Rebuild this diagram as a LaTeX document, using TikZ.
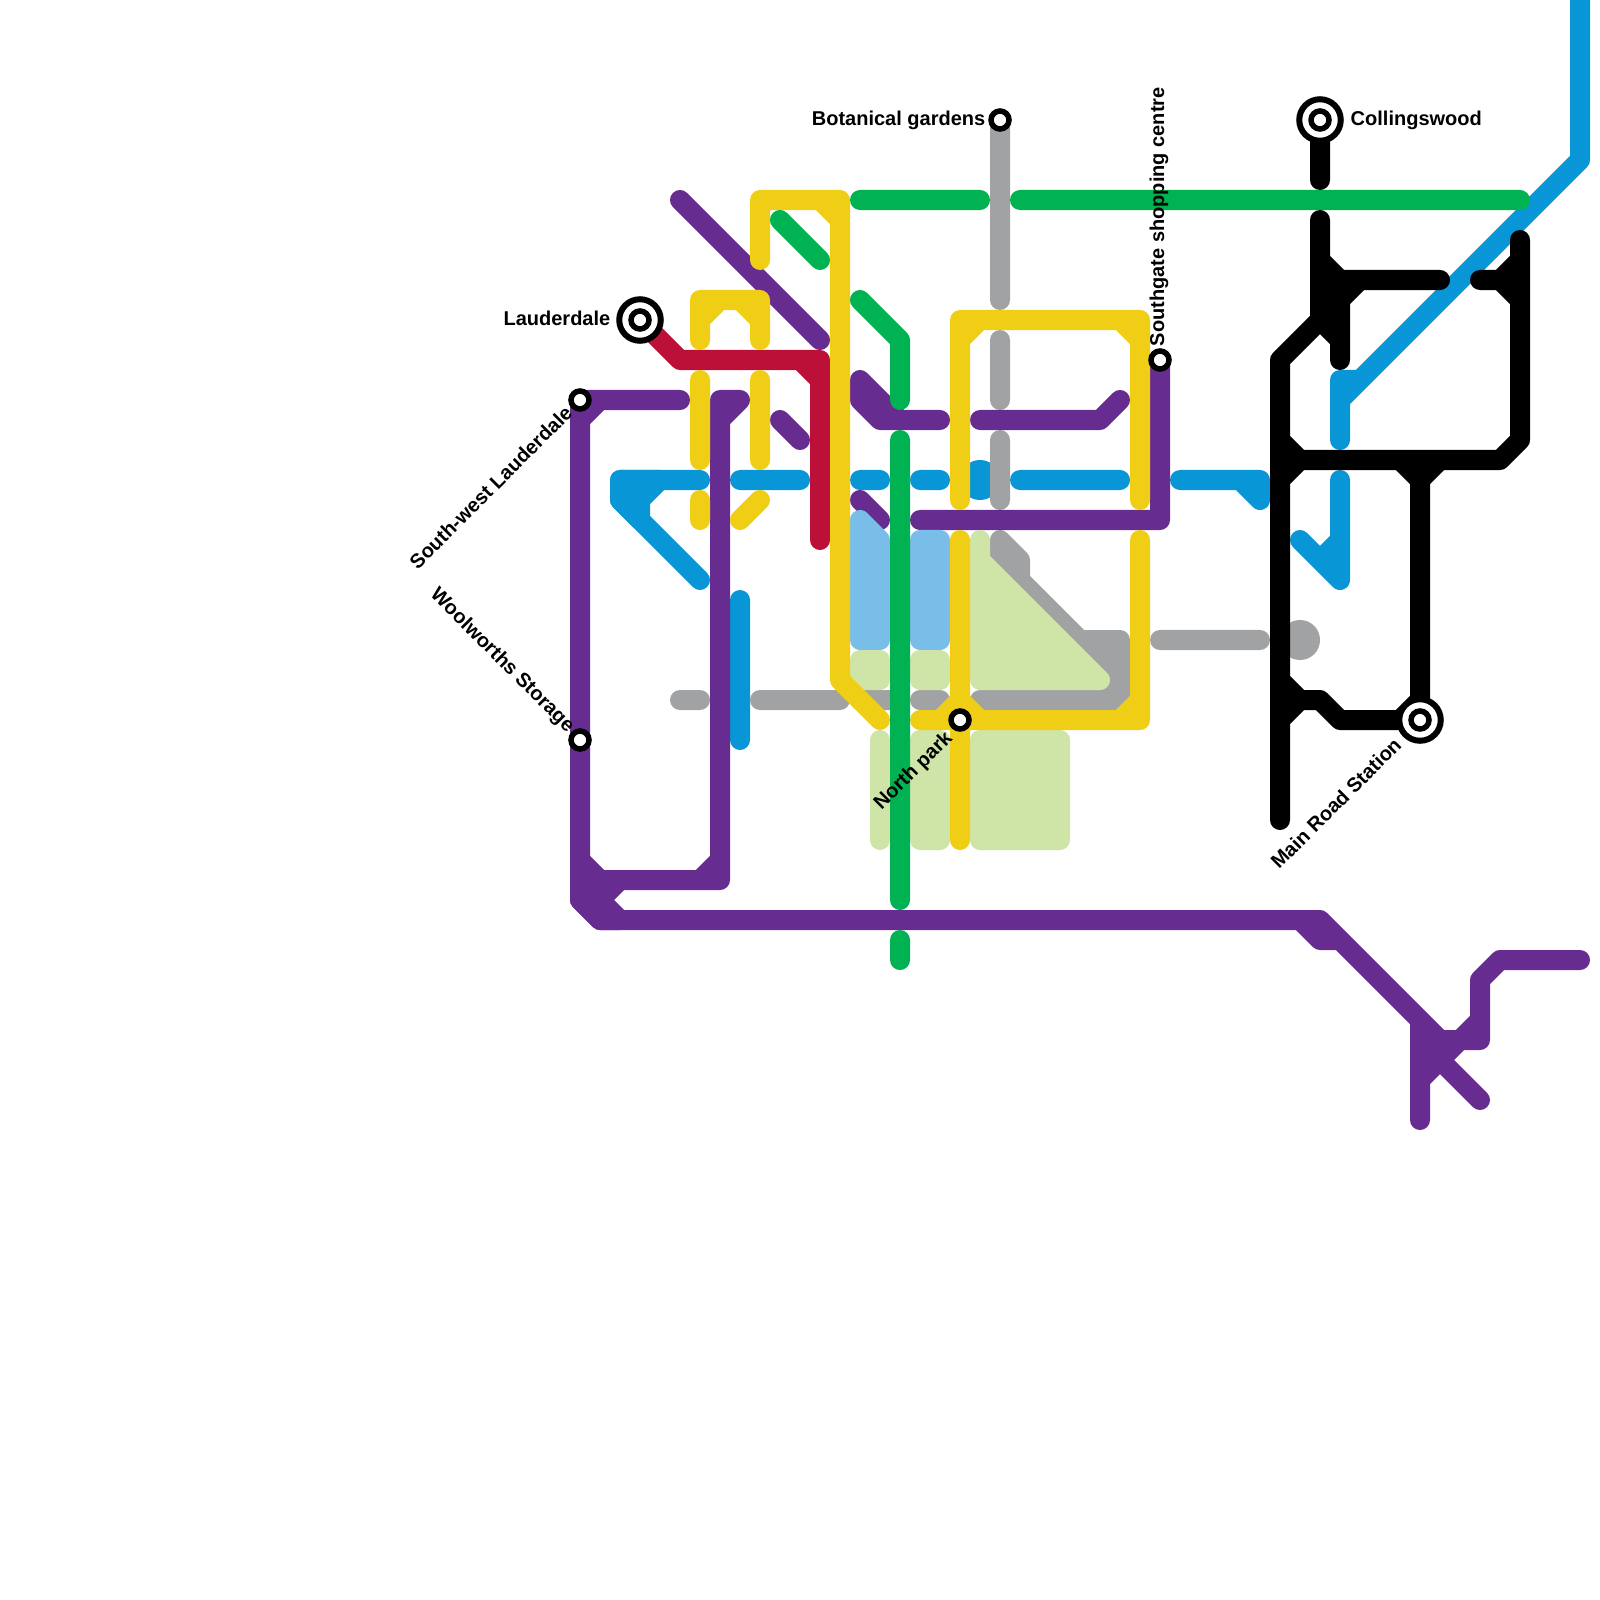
\documentclass[tikz,border=0pt]{standalone}
\usepackage{fontspec}
\setmainfont{Liberation Sans}
\usepackage{xcolor}
\usetikzlibrary{calc}
\definecolor{linePurple}{HTML}{662C90}
\definecolor{lineYellow}{HTML}{F0CE15}
\definecolor{lineBlue}{HTML}{0896D7}
\definecolor{lineSky}{HTML}{79BDE9}
\definecolor{lineGray}{HTML}{A1A2A3}
\definecolor{lineGreen}{HTML}{00B251}
\definecolor{lineRed}{HTML}{BD1038}
\definecolor{lineMoss}{HTML}{CFE4A7}
\tikzset{
	track/.style={line width=0.2cm,line cap=round,line join=round},
	stop/.style={circle,draw=black,fill=white,line width=0.055cm,minimum size=0.18cm,inner sep=0pt},
	hub/.style={circle,draw=black,fill=white,line width=0.06cm,minimum size=0.415cm,inner sep=0pt},
	stoplabel/.style={font=\fontsize{5.69}{7}\selectfont\bfseries,inner sep=0pt},
}
\begin{document}
\begin{tikzpicture}[x=0.01cm,y=-0.01cm]
	\useasboundingbox (0,0) rectangle (1600,1600);
	\coordinate (pLauderdale) at (640,320);
	\coordinate (pSouthWest) at (580,400);
	\coordinate (pWoolworths) at (580,740);
	\coordinate (pBotanical) at (1000,120);
	\coordinate (pSouthgate) at (1160,360);
	\coordinate (pNorthPark) at (960,720);
	\coordinate (pCollingswood) at (1320,120);
	\coordinate (pMainRoad) at (1420,720);
	\fill[lineBlue] (980,480) circle (0.2cm);
	\draw[track,lineBlue,fill=lineBlue] (620,480)--(660,480)--(640,500)--(640,520)--(620,500)--cycle;
	\draw[track,lineBlue] (700,480)--(620,480)--(620,500)--(700,580)
		(740,480)--(800,480)
		(740,600)--(740,740)
		(860,480)--(880,480)
		(920,480)--(940,480)
		(1020,480)--(1120,480)
		(1180,480)--(1260,480)--(1260,500)--(1240,480)
		(1340,440)--(1340,380)--(1360,380)
		(1340,400)--(1580,160)--(1580,0)
		(1340,480)--(1340,580)--(1300,540)
		(1320,560)--(1340,540);
	\fill[lineGray] (1300,640) circle (0.2cm);
	\draw[track,lineGray,fill=lineGray] (1080,640)--(1120,640)--(1120,700)--(1080,700)--cycle;
	\draw[track,lineGray] (1000,120)--(1000,300)
		(1000,340)--(1000,400)
		(1000,440)--(1000,500)
		(680,700)--(700,700)
		(760,700)--(840,700)
		(860,700)--(900,700)
		(920,700)--(940,700)
		(980,700)--(1120,700)
		(1000,540)--(1000,560)--(1120,680)
		(1000,540)--(1020,560)--(1020,580)
		(1160,640)--(1260,640);
	\draw[track,linePurple,fill=linePurple] (580,860)--(600,880)--(620,880)--(600,900)--(620,920)--(600,920)--(580,900)--cycle;
	\draw[track,linePurple] (680,200)--(820,340)
		(680,400)--(pSouthWest)--(pWoolworths)--(580,900)--(600,920)--(1320,920)--(1440,1040)
		(1420,1020)--(1420,1120)
		(600,400)--(580,420)
		(740,400)--(720,400)--(720,880)--(600,880)
		(740,400)--(720,420)
		(720,860)--(700,880)
		(780,420)--(800,440)
		(860,380)--(860,400)--(880,420)--(940,420)
		(860,380)--(900,420)
		(980,420)--(1100,420)--(1120,400)
		(860,500)--(880,520)
		(920,520)--(1160,520)--(pSouthgate)
		(1300,920)--(1320,940)--(1340,940)
		(1420,1040)--(1480,1100)
		(1420,1040)--(1480,1040)--(1480,980)--(1500,960)--(1580,960)
		(1480,1020)--(1460,1040)--(1420,1080);
	\draw[track,lineRed] (pLauderdale)--(680,360)--(820,360)--(820,540)
		(800,360)--(820,380);
	\draw[track,lineSky,fill=lineSky] (860,520)--(880,540)--(880,640)--(860,640)--cycle
		(920,540) rectangle (940,640);
	\draw[track,lineMoss,fill=lineMoss] (860,660) rectangle (880,680)
		(920,660) rectangle (940,680)
		(980,540)--(980,680)--(1100,680)--(980,560)--cycle
		(880,740)--(880,840)
		(920,740) rectangle (940,840)
		(980,740) rectangle (1060,840);
	\draw[track,lineYellow] (760,260)--(760,200)--(840,200)--(840,680)--(880,720)
		(820,200)--(840,220)
		(700,340)--(700,300)--(760,300)--(760,340)
		(700,320)--(720,300)
		(740,300)--(760,320)
		(700,380)--(700,460)
		(700,500)--(700,520)
		(760,380)--(760,460)
		(760,500)--(740,520)
		(960,500)--(960,320)--(1140,320)--(1140,500)
		(960,340)--(980,320)
		(1120,320)--(1140,340)
		(960,540)--(960,840)
		(920,720)--(pNorthPark)--(1140,720)--(1140,540)
		(940,720)--(960,700)--(980,720)
		(1140,700)--(1120,720);
	\draw[track,lineGreen] (860,200)--(980,200)
		(1020,200)--(1520,200)
		(780,220)--(820,260)
		(860,300)--(900,340)--(900,400)
		(900,440)--(900,900)
		(900,940)--(900,960);
	\draw[track,black] (pCollingswood)--(1320,180)
		(1320,220)--(1320,320)--(1280,360)--(1280,820)
		(1320,260)--(1340,280)--(1440,280)
		(1340,300)--(1360,280)
		(1340,280)--(1340,360)
		(1320,320)--(1340,340)
		(1480,280)--(1520,280)
		(1520,240)--(1520,440)--(1500,460)--(1280,460)
		(1500,280)--(1520,260)
		(1500,280)--(1520,300)
		(1280,440)--(1300,460)--(1280,480)
		(1400,460)--(1420,480)--(1440,460)
		(1420,460)--(pMainRoad)
		(1280,680)--(1300,700)--(1280,720)
		(1280,700)--(1320,700)--(1340,720)--(pMainRoad)
		(1400,720)--(1420,700);
	\node[hub] (stationLauderdale) at (pLauderdale) {};
	\node[stop] at (pLauderdale) {};
	\node[hub] (stationCollingswood) at (pCollingswood) {};
	\node[stop] at (pCollingswood) {};
	\node[hub] (stationMainRoad) at (pMainRoad) {};
	\node[stop] at (pMainRoad) {};
	\node[stop] (stationSouthWest) at (pSouthWest) {};
	\node[stop] (stationWoolworths) at (pWoolworths) {};
	\node[stop] (stationBotanical) at (pBotanical) {};
	\node[stop] (stationSouthgate) at (pSouthgate) {};
	\node[stop] (stationNorthPark) at (pNorthPark) {};
	\node[stoplabel,anchor=east] (labelLauderdale) at (611,318) {Lauderdale};
	\node[stoplabel,anchor=east] (labelBotanical) at (986,120) {Botanical gardens};
	\node[stoplabel,anchor=west] (labelCollingswood) at (1350,120) {Collingswood};
	\node[stoplabel,anchor=west,rotate=90] (labelSouthgate) at (1159,347) {Southgate shopping centre};
	\node[stoplabel,anchor=east,rotate=45] (labelSouthWest) at (569,409) {South-west Lauderdale};
	\node[stoplabel,anchor=east,rotate=-45] (labelWoolworths) at (571,730) {Woolworths Storage};
	\node[stoplabel,anchor=east,rotate=45] (labelNorthPark) at (950,735) {North park};
	\node[stoplabel,anchor=east,rotate=45] (labelMainRoad) at (1398,741) {Main Road Station};
\end{tikzpicture}
\end{document}
